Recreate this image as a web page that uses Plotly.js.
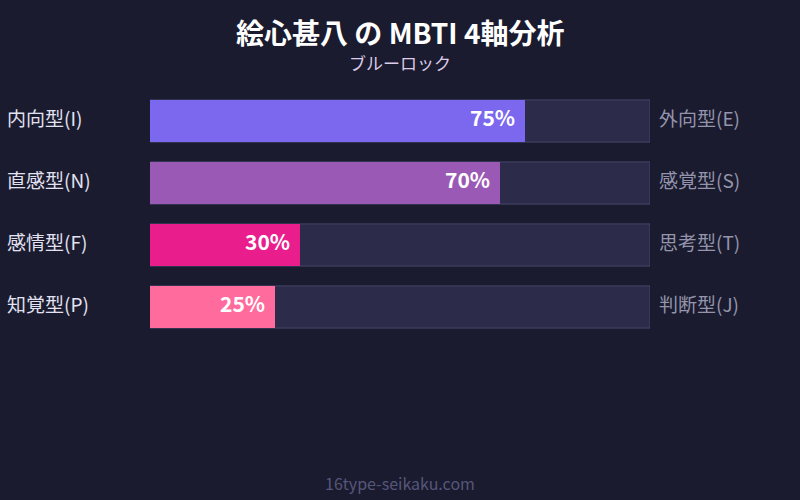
<!DOCTYPE html>
<html>
<head>
<meta charset="utf-8">
<script src="https://cdn.plot.ly/plotly-3.0.1.min.js"></script>
<style>
  html, body { margin: 0; padding: 0; background: #1a1b2e; }
  #chart { width: 800px; height: 500px; }
</style>
</head>
<body>
<div id="chart"></div>
<script>
// axis labels and scores
let leftLabels = ['内向型(I)', '直感型(N)', '感情型(F)', '知覚型(P)'];
let rightLabels = ['外向型(E)', '感覚型(S)', '思考型(T)', '判断型(J)'];
let scores = [75, 70, 30, 25];
let barColors = ['#7b68ee', '#9b59b6', '#e91e8c', '#ff6b9d'];
let fullScale = [100, 100, 100, 100];

let font = '"Noto Sans CJK JP", "Noto Sans", sans-serif';

// background track
let track = {
  type: 'bar',
  orientation: 'h',
  x: fullScale,
  y: leftLabels,
  width: 0.68,
  marker: {
    color: '#2d2b4a',
    line: { color: '#45456a', width: 1 }
  },
  hoverinfo: 'skip',
  showlegend: false
};

// actual score bars
let fill = {
  type: 'bar',
  orientation: 'h',
  x: scores,
  y: leftLabels,
  width: 0.68,
  marker: {
    color: barColors,
    cornerradius: 8,
    line: { width: 0 }
  },
  hoverinfo: 'skip',
  showlegend: false
};

let annotations = [];

leftLabels.forEach(function (lab, i) {
  annotations.push({
    xref: 'paper', yref: 'y',
    x: -0.29, y: lab, yshift: 4,
    xanchor: 'left', yanchor: 'middle',
    text: lab, showarrow: false,
    font: { family: font, size: 19, color: '#e2e2f2' }
  });
  annotations.push({
    xref: 'paper', yref: 'y',
    x: 1.013, y: lab, yshift: 4,
    xanchor: 'left', yanchor: 'middle',
    text: rightLabels[i], showarrow: false,
    font: { family: font, size: 19, color: '#9494ac' }
  });
  annotations.push({
    xref: 'x', yref: 'y',
    x: scores[i], y: lab, yshift: 4,
    xanchor: 'right', yanchor: 'middle', xshift: -8,
    text: '<b>' + scores[i] + '%</b>', showarrow: false,
    font: { family: font, size: 21, color: '#ffffff' }
  });
});

// title, subtitle, footer
annotations.push({
  xref: 'paper', yref: 'paper', x: 0.5, y: 1, yshift: 58,
  xanchor: 'center', yanchor: 'middle', showarrow: false,
  text: '<b>絵心甚八 の MBTI 4軸分析</b>',
  font: { family: font, size: 28, color: '#ffffff' }
});
annotations.push({
  xref: 'paper', yref: 'paper', x: 0.5, y: 1, yshift: 28,
  xanchor: 'center', yanchor: 'middle', showarrow: false,
  text: 'ブルーロック',
  font: { family: font, size: 17, color: '#dccbe9' }
});
annotations.push({
  xref: 'paper', yref: 'paper', x: 0.5, y: 0, yshift: -145,
  xanchor: 'center', yanchor: 'middle', showarrow: false,
  text: '16type-seikaku.com',
  font: { family: font, size: 16, color: '#56567a' }
});

let layout = {
  width: 800,
  height: 500,
  margin: { l: 150, r: 150, t: 90, b: 162 },
  paper_bgcolor: '#1a1b2e',
  plot_bgcolor: '#1a1b2e',
  barmode: 'overlay',
  xaxis: {
    range: [0, 100],
    showgrid: false, zeroline: false, showticklabels: false, showline: false,
    fixedrange: true
  },
  yaxis: {
    type: 'category',
    categoryorder: 'array',
    categoryarray: leftLabels,
    range: [3.5, -0.5],
    showgrid: false, zeroline: false, showticklabels: false, showline: false,
    fixedrange: true
  },
  annotations: annotations,
  font: { family: font }
};

Plotly.newPlot('chart', [track, fill], layout, { displayModeBar: false, staticPlot: true });
</script>
</body>
</html>
